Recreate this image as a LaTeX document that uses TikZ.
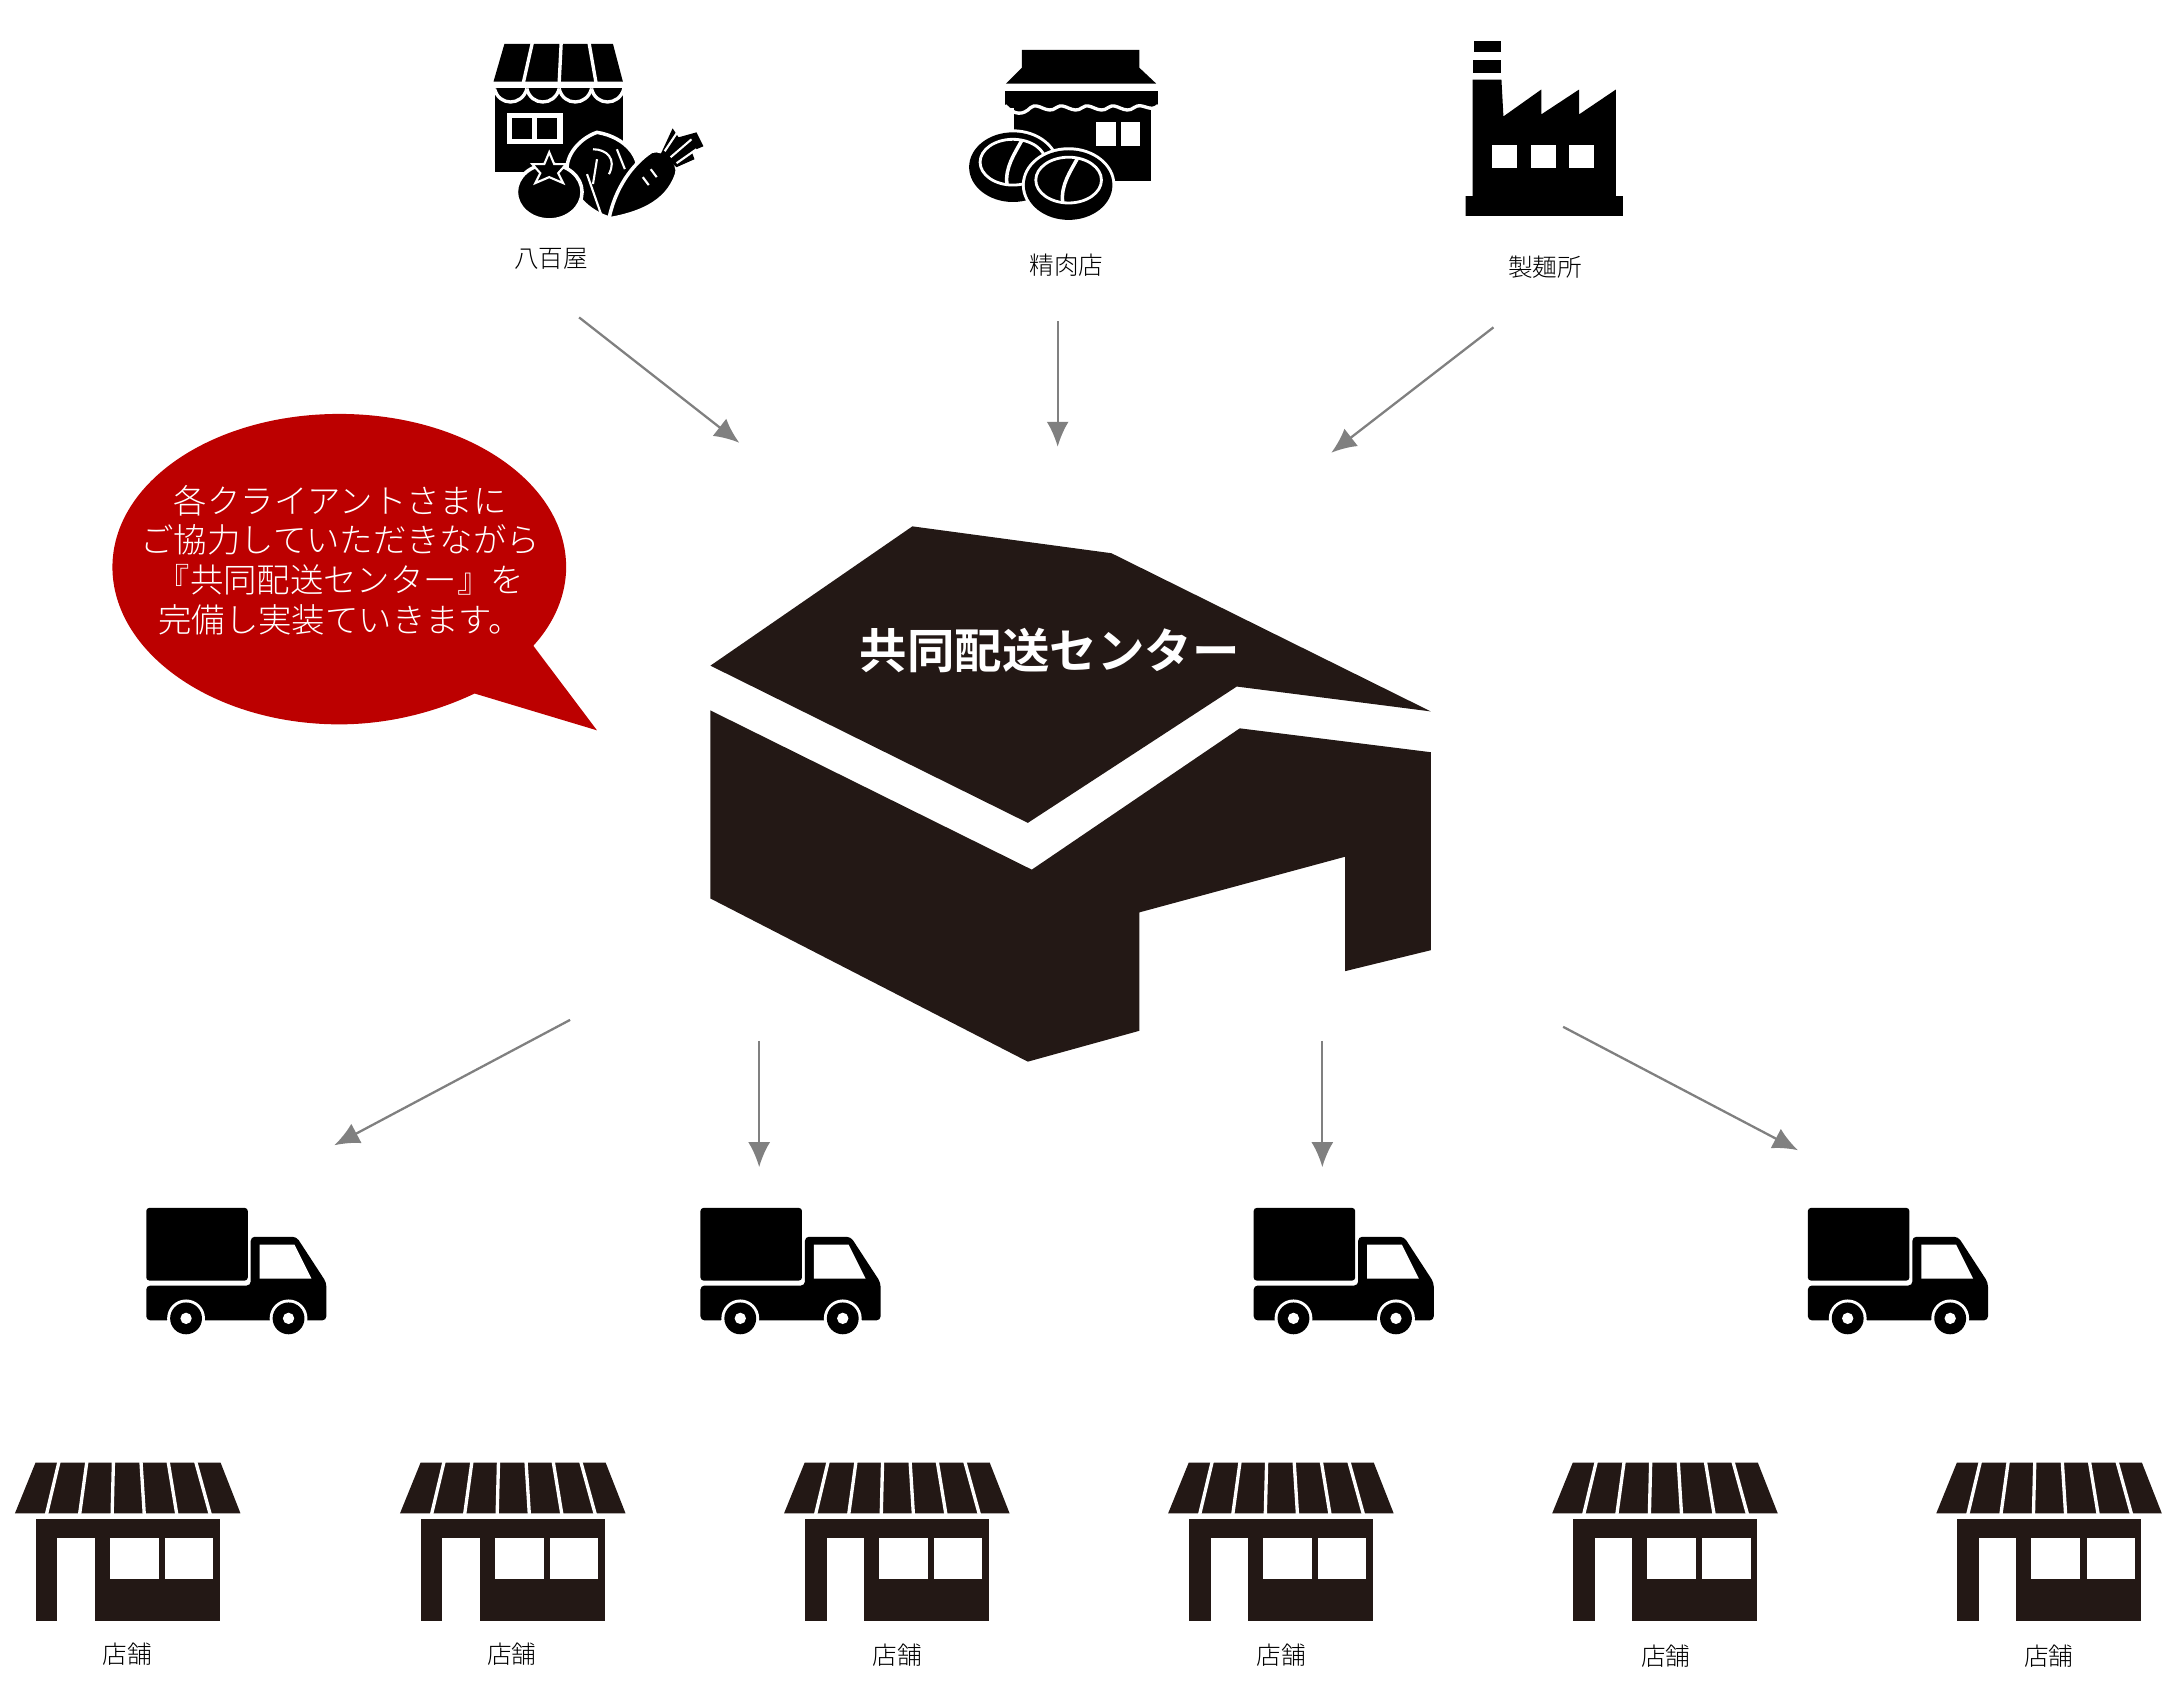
\documentclass[tikz,border=0pt]{standalone}
\usepackage{fontspec}
\setmainfont{Noto Sans CJK JP}[UprightFont=* Light,BoldFont=* Bold]
\usetikzlibrary{arrows.meta}
\definecolor{inkbrown}{HTML}{231815}
\definecolor{bubblered}{HTML}{BC0000}
\tikzset{
    x=0.0199cm, y=-0.0199cm,
    arrow/.style={-{Latex[length=0.5cm,width=0.44cm]}, draw=black!50, line width=1.3pt},
    namelabel/.style={font=\fontsize{14}{16}\selectfont, inner sep=0pt, align=center},
    gap/.style={draw=white, line width=1.9pt},
    thinline/.style={draw=white, line width=1.2pt},
    icon/.style={fill=black},
    truck/.pic={
        \fill[icon, rounded corners=0.06cm] (0,0) rectangle (102,73);
        \fill[icon, rounded corners=0.08cm] (0,78) -- (105,78) -- (105,29) -- (151,29)
            -- (181,75) -- (181,113) -- (0,113) -- cycle;
        \fill[white] (114,37) -- (149,37) -- (166,71) -- (114,71) -- cycle;
        \foreach \wx in {40,143} {
            \fill[white] (\wx,111) circle (19);
            \fill[white] (\wx-19,113) rectangle (\wx+19,119);
            \fill[icon] (\wx,111) circle (16);
            \fill[white] (\wx,111) circle (5.7);
        }
    },
    store/.pic={
        \fill[inkbrown] (20.7,0) -- (206.7,0) -- (226.7,51) -- (0,51) -- cycle;
        \foreach \tx/\bx in {44.3/31.7,72.3/65,99/97.7,126.7/130,154/162.7,181.7/196.3}
            \draw[gap] (\tx,-1) -- (\bx,52);
        \fill[inkbrown] (20.7,57) rectangle (206,159);
        \fill[white] (42.7,76) rectangle (80,160);
        \fill[white] (95.7,76) rectangle (144.3,117);
        \fill[white] (151,76) rectangle (199.3,117);
    },
    meat/.pic={
        \fill[white] (0,0) ellipse (47 and 38);
        \fill[icon] (0,0) ellipse (44 and 35);
        \draw[thinline, line width=1.6pt, fill=black] (0,-5) ellipse (33 and 23);
        \draw[thinline, line width=2pt] (9,-27) .. controls (2,-14) and (-8,0) .. (-6,17);
    }
}
\begin{document}
\begin{tikzpicture}
\useasboundingbox (0,0) rectangle (2195,1702.5);

% ============ Vegetable shop ============

\fill[icon] (507,44) -- (616,44) -- (626,82) -- (496,82) -- cycle;
\foreach \tx/\bx in {535/526,564/562,592/599}
    \draw[gap] (\tx,43) -- (\bx,83);
\fill[icon] (497,88) rectangle (626,173);
\foreach \sx in {497,529.5,562,594.5}
    \draw[gap] (\sx,89) .. controls (\sx+4,107) and (\sx+28,107) .. (\sx+32.5,89);
\fill[white] (510,114) rectangle (566,145);
\fill[icon] (515,119) rectangle (535,140);
\fill[icon] (540,119) rectangle (560,140);
% leaf
\draw[thinline, line width=2pt, fill=black] (600,133) .. controls (580,140) and (566,160) .. (571,175)
    .. controls (575,195) and (590,212) .. (612,219) -- (640,175) .. controls (645,160) and (630,138) .. (600,133) -- cycle;
\draw[thinline] (596,150) .. controls (610,150) and (620,160) .. (612,175) (620,150) -- (628,170)
    (590,175) -- (604,215) (600,160) -- (596,185);
% carrot
\draw[thinline, line width=2pt, fill=black] (612,220) .. controls (618,190) and (635,165) .. (655,152)
    .. controls (668,148) and (684,165) .. (680,175) .. controls (670,205) and (640,215) .. (612,220) -- cycle;
\fill[icon] (664,155) -- (676,129) -- (682,138) -- (700,133) -- (707,147) -- (695,152) -- (698,160) -- (680,168) -- cycle;
\draw[thinline] (668,152) -- (680,134) (674,158) -- (695,140) (680,164) -- (700,150)
    (646,178) -- (652,186) (654,170) -- (660,178);
% tomato
\draw[thinline, line width=2pt, fill=black] (552,193) ellipse (33 and 28);
\draw[thinline, fill=black] (552,153) -- (557,165) -- (569,165) -- (561,174) -- (566,184) -- (552,178)
    -- (538,184) -- (543,174) -- (535,165) -- (547,165) -- cycle;

\node[namelabel] (yaoya) at (554,260) {八百屋};

% ============ Butcher shop ============

\fill[icon] (1027,50) -- (1145,50) -- (1145,68) -- (1162,84) -- (1011,84) -- (1027,68) -- cycle;
\fill[icon] (1010,91) rectangle (1164,109);
\fill[icon] (1019,106) rectangle (1157,182);
\draw[gap] (1010,106) .. controls (1020,116) and (1028,116) .. (1036,108)
    .. controls (1044,102) and (1052,116) .. (1062,108) .. controls (1070,102) and (1078,116) .. (1088,108)
    .. controls (1096,102) and (1104,116) .. (1114,108) .. controls (1122,102) and (1130,116) .. (1140,108)
    .. controls (1148,102) and (1156,114) .. (1164,106);
\fill[white] (1102,123) rectangle (1122,147);
\fill[white] (1127,123) rectangle (1146,147);
\pic at (1018,168) {meat};
\pic at (1074,186) {meat};

\node[namelabel] (seiniku) at (1072,266) {精肉店};

% ============ Noodle factory ============

\fill[icon] (1481,41) rectangle (1509,52);
\fill[icon] (1480,60) rectangle (1509,73);
\fill[icon] (1480,80) -- (1509,80) -- (1511,117) -- (1549,90) -- (1549,115) -- (1587,90)
    -- (1587,115) -- (1624,90) -- (1624,197) -- (1631,197) -- (1631,217) -- (1473,217)
    -- (1473,197) -- (1480,197) -- cycle;
\foreach \wx in {1500,1539,1577}
    \fill[white] (\wx,146) rectangle (\wx+25,169);

\node[namelabel] (seimen) at (1553,269) {製麺所};

% ============ Speech bubble ============

\fill[bubblered] (536,649) .. controls (558,625) and (569,597) .. (569,570)
    .. controls (569,484) and (467,416) .. (341,416)
    .. controls (215,416) and (113,484) .. (113,570)
    .. controls (113,656) and (215,728) .. (341,728)
    .. controls (390,728) and (437,716) .. (477,697) -- (600,734) -- cycle;
\node[inner sep=0pt, align=center, text=white, font=\fontsize{19}{22.7}\selectfont] (bubbletext) at (342,563)
    {各クライアントさまに\\ご協力していただきながら\\『共同配送センター』を\\完備し実装ていきます。};

% ============ Delivery center ============

\fill[inkbrown] (714,669) -- (917,529) -- (1117,556) -- (1438,715) -- (1243,690) -- (1033,827) -- cycle;
\fill[inkbrown] (714,714) -- (1037,874) -- (1246,732) -- (1438,756) -- (1438,955) -- (1352,976)
    -- (1352,861) -- (1145,917) -- (1145,1036) -- (1033,1067) -- (714,903) -- cycle;
\node[inner sep=0pt, text=white, font=\fontsize{27}{30}\selectfont\bfseries] (center) at (1055,654) {共同配送センター};

% ============ Trucks ============

\foreach \tx in {147,704,1260,1817}
    \pic at (\tx,1214) {truck};

% ============ Stores ============

\foreach \sx/\lx/\ly [count=\si] in {15/128/1662,402/514.5/1662,788/902/1663,1174/1288/1663,1560/1674/1664,1946/2059/1664} {
    \pic at (\sx,1470) {store};
    \node[namelabel] (tenpo\si) at (\lx,\ly) {店舗};
}

% ============ Arrows ============

\coordinate (in1a) at (582,319);   \coordinate (in1b) at (743,445);
\coordinate (in2a) at (1063,323);  \coordinate (in2b) at (1063,449);
\coordinate (in3a) at (1501,329);  \coordinate (in3b) at (1338,455);
\coordinate (out1a) at (573,1025); \coordinate (out1b) at (336,1151);
\coordinate (out2a) at (763,1046); \coordinate (out2b) at (763,1173);
\coordinate (out3a) at (1329,1046);\coordinate (out3b) at (1329,1173);
\coordinate (out4a) at (1571,1032);\coordinate (out4b) at (1807,1156);

\draw[arrow] (in1a) -- (in1b);
\draw[arrow] (in2a) -- (in2b);
\draw[arrow] (in3a) -- (in3b);
\draw[arrow] (out1a) -- (out1b);
\draw[arrow] (out2a) -- (out2b);
\draw[arrow] (out3a) -- (out3b);
\draw[arrow] (out4a) -- (out4b);

\end{tikzpicture}
\end{document}
